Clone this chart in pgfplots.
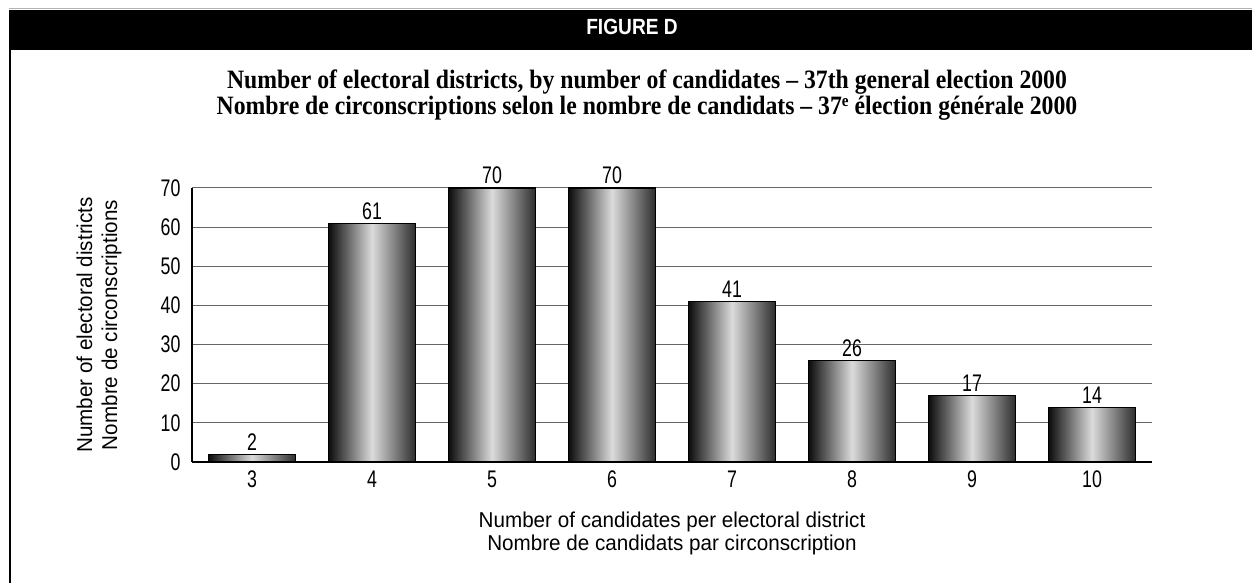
\documentclass[border=0pt]{standalone}
\usepackage{fontspec}
\usepackage{pgfplots}
\pgfplotsset{compat=1.18}
\newfontfamily\sansc[FakeStretch=0.96]{Liberation Sans}
\newfontfamily\sansd[FakeStretch=0.74]{Liberation Sans}
\newfontfamily\sansh[FakeStretch=0.87]{Liberation Sans}
\newfontfamily\serifc[FakeStretch=0.895]{Liberation Serif}
\newcommand\lab{\sansc\fontsize{21.5bp}{24bp}\selectfont}
\newcommand\num{\sansd\fontsize{24bp}{26bp}\selectfont}
\begin{document}
\begin{tikzpicture}[x=1bp,y=1bp]
\path[use as bounding box] (0,0) rectangle (1252,583);
% frame and header
\draw[black!30, line width=1bp] (9,574) -- (1252,574);
\fill[black] (9,533) rectangle (1252,573);
\draw[line width=1.5bp] (9.75,0) -- (9.75,533.5);
\node[anchor=base, text=white, font=\sansh\bfseries\fontsize{22bp}{24bp}\selectfont] at (632,548) {FIGURE D};
% title
\node[anchor=base, inner sep=0pt, font=\serifc\bfseries\fontsize{26.5bp}{28bp}\selectfont] at (647,494) {Number of electoral districts, by number of candidates – 37th general election 2000};
\node[anchor=base, inner sep=0pt, font=\serifc\bfseries\fontsize{26.5bp}{28bp}\selectfont] at (647,468) {Nombre de circonscriptions selon le nombre de candidats – 37{\fontsize{17bp}{17bp}\selectfont\raisebox{8.5bp}{e}} élection générale 2000};

\begin{axis}[
    at={(192bp,121bp)}, anchor=south west,
    scale only axis,
    width=960bp, height=274bp,
    xmin=2.5, xmax=10.5,
    ymin=0, ymax=70,
    ybar, bar width=0.72,
    xtick={3,...,10},
    ytick={0,10,...,60},
    extra y ticks={70},
    extra y tick style={grid style={black, line width=1.2bp}},
    axis lines*=left,
    axis line style={line width=1.3bp},
    ymajorgrids,
    major grid style={black!60, line width=1bp},
    major tick length=0pt,
    /pgf/number format/assume math mode=true,
    tick label style={font=\num},
    yticklabel style={xshift=-8bp},
    xticklabel style={yshift=-5bp},
    nodes near coords,
    nodes near coords style={font=\num},
    clip=false,
    onebar/.style={draw=black, line width=1.1bp, bar shift=0pt,
        left color=black!95, right color=black!82, middle color=black!14},
]
% one plot per bar, so that each bar gets its own shading
\addplot[onebar] coordinates {(3,2)};
\addplot[onebar] coordinates {(4,61)};
\addplot[onebar] coordinates {(5,70)};
\addplot[onebar] coordinates {(6,70)};
\addplot[onebar] coordinates {(7,41)};
\addplot[onebar] coordinates {(8,26)};
\addplot[onebar] coordinates {(9,17)};
\addplot[onebar] coordinates {(10,14)};
\end{axis}

% axis titles
\node[anchor=base, font=\lab] at (672,55) {Number of candidates per electoral district};
\node[anchor=base, font=\lab] at (672,32) {Nombre de candidats par circonscription};
\node[anchor=base, rotate=90, font=\lab] at (92,258) {Number of electoral districts};
\node[anchor=base, rotate=90, font=\lab] at (117,258) {Nombre de circonscriptions};
\end{tikzpicture}
\end{document}
